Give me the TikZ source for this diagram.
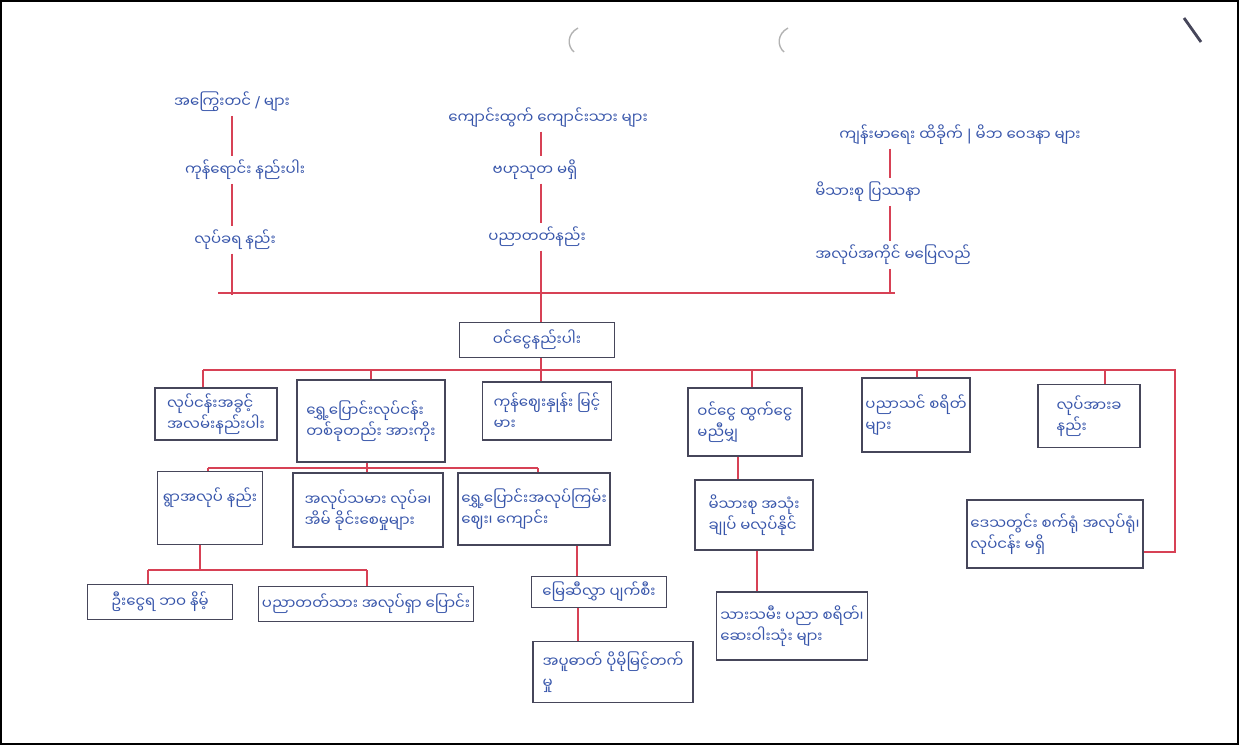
\documentclass[tikz,border=0pt]{standalone}
\usepackage{fontspec}
\newfontfamily\mya[Script=Myanmar]{Noto Sans Myanmar UI}
\newfontfamily\latn{DejaVu Sans}
\definecolor{ink}{RGB}{55,85,170}
\definecolor{pen}{RGB}{70,70,90}
\definecolor{redpen}{RGB}{215,65,85}
\tikzset{
  lbl/.style={text=ink, font=\mya\fontsize{8.5}{12}\selectfont, inner sep=2pt},
  box/.style={lbl, draw=pen, line width=0.8pt, align=left},
  link/.style={draw=redpen, line width=0.8pt}
}
\begin{document}
\begin{tikzpicture}[x=0.02cm, y=-0.02cm]
  \useasboundingbox (0,0) rectangle (1239,745);
  \draw[black, line width=1pt] (1,1) rectangle (1238,744);
  \draw[gray!60, line width=0.8pt] (578,28) .. controls (567,34) and (567,46) .. (574,52);
  \draw[gray!60, line width=0.8pt] (788,28) .. controls (777,34) and (777,46) .. (784,52);
  \draw[pen, line width=1.6pt] (1184,18) -- (1201,42);

  \node[lbl] (t1) at (232,102) {အကြွေးတင် {\latn /} များ};
  \node[lbl] (t2) at (245,170) {ကုန်ရောင်း နည်းပါး};
  \node[lbl] (t3) at (235,240) {လုပ်ခရ နည်း};
  \node[lbl] (t4) at (548,118) {ကျောင်းထွက် ကျောင်းသား များ};
  \node[lbl] (t5) at (535,170) {ဗဟုသုတ မရှိ};
  \node[lbl] (t6) at (537,237) {ပညာတတ်နည်း};
  \node[lbl] (t7) at (960,135) {ကျန်းမာရေး ထိခိုက် {\latn |} မိဘ ဝေဒနာ များ};
  \node[lbl] (t8) at (868,192) {မိသားစု ပြဿနာ};
  \node[lbl] (t9) at (893,255) {အလုပ်အကိုင် မပြေလည်};

  \node[box, minimum width=3.1cm, minimum height=0.7cm, align=center] (c0) at (537,340) {ဝင်ငွေနည်းပါး};

  \node[box, minimum width=2.44cm, minimum height=1.04cm] (b1) at (216,414) {လုပ်ငန်းအခွင့်\\အလမ်းနည်းပါး};
  \node[box, minimum width=2.96cm, minimum height=1.64cm] (b2) at (371,421) {ရွှေ့ပြောင်းလုပ်ငန်း\\တစ်ခုတည်း အားကိုး};
  \node[box, minimum width=2.58cm, minimum height=1.16cm] (b3) at (547,411) {ကုန်ဈေးနှုန်း မြင့်\\မား};
  \node[box, minimum width=2.28cm, minimum height=1.36cm] (b4) at (745,422) {ဝင်ငွေ ထွက်ငွေ\\မညီမျှ};
  \node[box, minimum width=2.14cm, minimum height=1.48cm] (b5) at (916,415) {ပညာသင် စရိတ်\\များ};
  \node[box, minimum width=2.04cm, minimum height=1.26cm] (b6) at (1089,416) {လုပ်အားခ\\နည်း};

  \node[box, minimum width=2.1cm, minimum height=1.46cm, text depth=0.5cm] (c1) at (210,508) {ရွာအလုပ် နည်း};
  \node[box, minimum width=3.0cm, minimum height=1.48cm] (c2) at (368,510) {အလုပ်သမား လုပ်ခ၊\\အိမ် ခိုင်းစေမှုများ};
  \node[box, minimum width=2.44cm, minimum height=1.44cm] (c3) at (534,509) {ရွှေ့ပြောင်းအလုပ်ကြမ်း\\ဈေး၊ ကျောင်း};
  \node[box, minimum width=2.36cm, minimum height=1.4cm] (c4) at (754,515) {မိသားစု အသုံး\\ချုပ် မလုပ်နိုင်};

  \node[box, minimum width=2.9cm, minimum height=0.7cm] (d1) at (160,602) {ဦးငွေရ ဘဝ နိမ့်};
  \node[box, minimum width=3.84cm, minimum height=0.7cm] (d2) at (366,604) {ပညာတတ်သား အလုပ်ရှာ ပြောင်း};
  \node[box, minimum width=2.7cm, minimum height=0.62cm] (d3) at (599,592) {မြေဆီလွှာ ပျက်စီး};
  \node[box, minimum width=3.2cm, minimum height=1.22cm] (d4) at (613,672) {အပူဓာတ် ပိုမိုမြင့်တက်\\မှု};
  \node[box, minimum width=2.9cm, minimum height=1.36cm] (d5) at (792,626) {သားသမီး ပညာ စရိတ်၊\\ဆေးဝါးသုံး များ};
  \node[box, minimum width=3.4cm, minimum height=1.36cm] (e) at (1055,534) {ဒေသတွင်း စက်ရုံ အလုပ်ရုံ၊\\လုပ်ငန်း မရှိ};

  \coordinate (xl) at (232,0);
  \coordinate (xm) at (541,0);
  \coordinate (xr) at (890,0);
  \coordinate (busL) at (218,293);
  \coordinate (busR) at (895,293);
  \coordinate (mainL) at (203,370);
  \coordinate (mainR) at (1175,370);
  \coordinate (turnR) at (1175,552);
  \coordinate (b2L) at (208,468);
  \coordinate (b2R) at (538,468);
  \coordinate (c1L) at (148,570);
  \coordinate (c1R) at (367,570);

  \begin{scope}[link]
    \draw (t1.south -| xl) to (t2.north -| xl);
    \draw (t2.south -| xl) to (t3.north -| xl);
    \draw (t3.south -| xl) to ([yshift=-0.04cm]busL -| xl);
    \draw (t4.south -| xm) to (t5.north -| xm);
    \draw (t5.south -| xm) to (t6.north -| xm);
    \draw (t6.south -| xm) to (c0.north -| xm);
    \draw (t7.south -| xr) to (t8.north -| xr);
    \draw (t8.south -| xr) to (t9.north -| xr);
    \draw (t9.south -| xr) to (busR -| xr);
    \draw (busL) to (busR);

    \draw (c0.south -| xm) to (xm |- mainL);
    \draw (mainL) to (mainR) to (turnR) to (e.east |- turnR);
    \draw (mainL) to (b1.north -| mainL);
    \draw (b2.north) to (b2.north |- mainL);
    \draw (b3.north -| xm) to (xm |- mainL);
    \draw (752,370) to (b4.north -| 752,0);
    \draw (917,370) to (b5.north -| 917,0);
    \draw (1105,370) to (b6.north -| 1105,0);

    \draw (b2.south -| 367,0) to (367,468);
    \draw (b2L) to (b2R);
    \draw (b2L) to (c1.north -| b2L);
    \draw (367,468) to (c2.north -| 367,0);
    \draw (b2R) to (c3.north -| b2R);

    \draw (c1.south -| 200,0) to (200,570);
    \draw (c1L) to (c1R);
    \draw (c1L) to (d1.north -| c1L);
    \draw (c1R) to (d2.north -| c1R);

    \draw (c3.south -| 577,0) to (d3.north -| 577,0);
    \draw (d3.south -| 578,0) to (d4.north -| 578,0);
    \draw (b4.south -| 738,0) to (c4.north -| 738,0);
    \draw (c4.south -| 757,0) to (d5.north -| 757,0);
  \end{scope}
\end{tikzpicture}
\end{document}
